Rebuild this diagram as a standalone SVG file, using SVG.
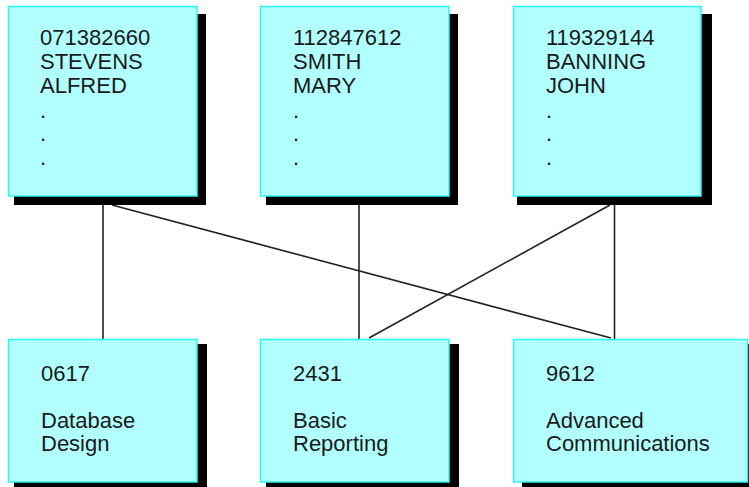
<svg xmlns="http://www.w3.org/2000/svg" width="749" height="487" viewBox="0 0 749 487">
<style>
.shadow{fill:#000}
.box{fill:#b2ffff;stroke:#2ef5f5;stroke-width:1.5}
.t{font-family:"Liberation Sans",Arial,sans-serif;font-size:22px;fill:#1a1a1a}
.c{stroke:#222;stroke-width:1.6;fill:none}
</style>
<rect width="749" height="487" fill="#fff"/>
<g id="connectors">
<line class="c" x1="103" y1="200" x2="103" y2="340"/>
<line class="c" x1="359" y1="200" x2="359" y2="340"/>
<line class="c" x1="614.5" y1="200" x2="614.5" y2="340"/>
<line class="c" x1="112" y1="205" x2="611" y2="338"/>
<line class="c" x1="610" y1="205" x2="369" y2="338"/>
</g>
<g id="emp1">
<rect class="shadow" x="14" y="14" width="192" height="191"/>
<rect class="box" x="8.5" y="6.5" width="188.5" height="189.5"/>
<text class="t" x="40" y="45">071382660</text>
<text class="t" x="40" y="69">STEVENS</text>
<text class="t" x="40" y="93">ALFRED</text>
<text class="t" x="40" y="118">.</text>
<text class="t" x="40" y="141">.</text>
<text class="t" x="40" y="165">.</text>
</g>
<g id="emp2">
<rect class="shadow" x="266" y="14" width="192" height="191"/>
<rect class="box" x="260.5" y="6.5" width="188.5" height="189.5"/>
<text class="t" x="293" y="45">112847612</text>
<text class="t" x="293" y="69">SMITH</text>
<text class="t" x="293" y="93">MARY</text>
<text class="t" x="293" y="118">.</text>
<text class="t" x="293" y="141">.</text>
<text class="t" x="293" y="165">.</text>
</g>
<g id="emp3">
<rect class="shadow" x="517" y="14" width="195" height="191"/>
<rect class="box" x="513.5" y="6.5" width="187.5" height="189.5"/>
<text class="t" x="546" y="45">119329144</text>
<text class="t" x="546" y="69">BANNING</text>
<text class="t" x="546" y="93">JOHN</text>
<text class="t" x="546" y="118">.</text>
<text class="t" x="546" y="141">.</text>
<text class="t" x="546" y="165">.</text>
</g>
<g id="course1">
<rect class="shadow" x="14" y="344" width="193" height="143"/>
<rect class="box" x="8.5" y="339.5" width="188.5" height="142.5"/>
<text class="t" x="41" y="381">0617</text>
<text class="t" x="41" y="428">Database</text>
<text class="t" x="41" y="451">Design</text>
</g>
<g id="course2">
<rect class="shadow" x="266" y="344" width="193" height="143"/>
<rect class="box" x="260.5" y="339.5" width="188.5" height="142.5"/>
<text class="t" x="293" y="381">2431</text>
<text class="t" x="293" y="428">Basic</text>
<text class="t" x="293" y="451">Reporting</text>
</g>
<g id="course3">
<rect class="shadow" x="522" y="344" width="227" height="143"/>
<rect class="box" x="513.5" y="339.5" width="234" height="142.5"/>
<text class="t" x="546" y="381">9612</text>
<text class="t" x="546" y="428">Advanced</text>
<text class="t" x="546" y="451">Communications</text>
</g>
</svg>
